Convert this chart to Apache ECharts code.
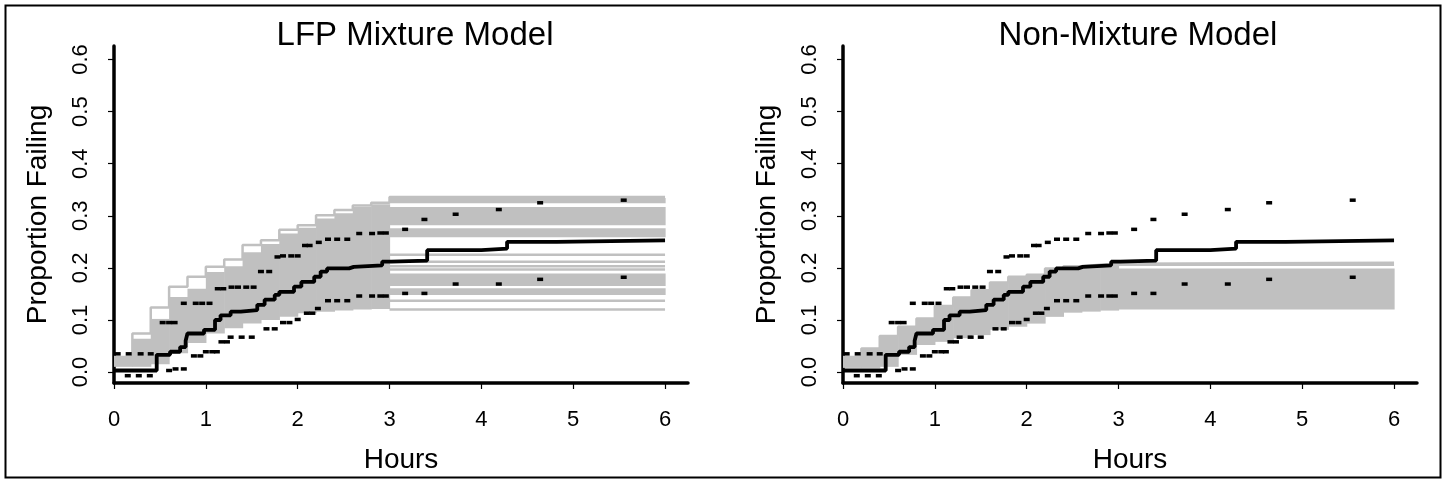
<!DOCTYPE html>
<html><head><meta charset="utf-8">
<script src="https://cdn.jsdelivr.net/npm/echarts@6/dist/echarts.min.js"></script>
<style>html,body{margin:0;padding:0;background:#fff}#c{width:1447px;height:483px}</style>
</head><body><div id="c"></div>
<script>
// ---------- data ----------
const panelTitles = ['LFP Mixture Model', 'Non-Mixture Model'];
const xTicks = [0, 1, 2, 3, 4, 5, 6];
const yTicks = [0, 0.1, 0.2, 0.3, 0.4, 0.5, 0.6];
// step edges of the simulated curves (hours); after 3.0 curves stay flat to 6
const gridHours = [0, 0.2, 0.4, 0.6, 0.8, 1.0, 1.2, 1.4, 1.6, 1.8, 2.0, 2.2, 2.4, 2.6, 2.8, 3.0];
const tailEnd = 6;

// LFP mixture model: simulated curve envelope (per step interval up to 3.0)
const lfpLower = [0.010, 0.010, 0.015, 0.036, 0.056, 0.074, 0.084, 0.093, 0.100, 0.106, 0.113, 0.116, 0.118, 0.120, 0.121];
const lfpSolidTop = [0.029, 0.064, 0.102, 0.144, 0.160, 0.192, 0.203, 0.230, 0.246, 0.266, 0.277, 0.295, 0.305, 0.317, 0.322];
const lfpTop = [0.029, 0.074, 0.124, 0.164, 0.183, 0.202, 0.216, 0.244, 0.253, 0.273, 0.282, 0.301, 0.311, 0.320, 0.325, 0.336];
// LFP levels beyond 3 hours
const lfpTailLow = [0.324, 0.282, 0.259, 0.165, 0.148];
const lfpTailHigh = [0.334, 0.317, 0.276, 0.189, 0.161];
const lfpTailLines = [0.225, 0.212, 0.203, 0.197, 0.137, 0.120];

// Non-mixture model
const nmLower = [0.008, 0.008, 0.010, 0.033, 0.052, 0.058, 0.065, 0.071, 0.081, 0.087, 0.093, 0.106, 0.114, 0.116, 0.118];
const nmTop = [0.029, 0.045, 0.069, 0.087, 0.103, 0.127, 0.143, 0.157, 0.172, 0.183, 0.187, 0.199, 0.203, 0.206, 0.208, 0.210];
const nmTailLow = [0.120];
const nmTailHigh = [0.199];
const nmTailLines = [0.206];

// nonparametric estimate (hours, proportion) - value holds from each time onward
const npEstimate = [[0,0.003],[0.465,0.033],[0.61,0.039],[0.72,0.048],[0.78,0.06],[0.8,0.074],[0.98,0.081],[1.1,0.1],[1.16,0.109],[1.27,0.116],[1.38,0.119],[1.56,0.129],[1.64,0.139],[1.75,0.148],[1.8,0.154],[1.96,0.164],[2.04,0.173],[2.18,0.183],[2.25,0.193],[2.32,0.199],[2.56,0.202],[2.61,0.205],[2.92,0.212],[3.02,0.214],[3.41,0.234],[4.0,0.237],[4.28,0.25],[4.82,0.253],[6.0,0.253]];

// pointwise confidence limits
const upperCI = [[0.04,0.035],[0.16,0.035],[0.29,0.035],[0.40,0.035],[0.53,0.095],[0.6,0.095],[0.66,0.095],[0.76,0.132],[0.89,0.132],[0.96,0.132],[1.04,0.132],[1.13,0.16],[1.19,0.16],[1.28,0.163],[1.35,0.163],[1.44,0.163],[1.52,0.163],[1.6,0.193],[1.69,0.193],[1.78,0.221],[1.84,0.223],[1.93,0.223],[2.0,0.223],[2.08,0.243],[2.13,0.243],[2.23,0.249],[2.33,0.255],[2.43,0.255],[2.54,0.255],[2.67,0.266],[2.81,0.266],[2.9,0.267],[2.96,0.267],[3.17,0.274],[3.38,0.293],[3.72,0.303],[4.19,0.312],[4.64,0.325],[5.55,0.33]];
const lowerCI = [[0.15,-0.007],[0.27,-0.007],[0.39,-0.007],[0.6,0.003],[0.67,0.006],[0.76,0.006],[0.87,0.031],[0.94,0.031],[1.0,0.039],[1.07,0.039],[1.12,0.039],[1.17,0.058],[1.23,0.058],[1.27,0.067],[1.39,0.067],[1.5,0.067],[1.66,0.083],[1.75,0.083],[1.84,0.095],[1.91,0.095],[2.0,0.101],[2.1,0.113],[2.16,0.113],[2.22,0.122],[2.33,0.137],[2.43,0.137],[2.54,0.137],[2.67,0.146],[2.81,0.146],[2.9,0.146],[2.96,0.146],[3.17,0.151],[3.38,0.151],[3.72,0.169],[4.19,0.169],[4.64,0.178],[5.55,0.182]];

// ---------- chart ----------
const GRAY = '#c0c0c0';
const FONT = '"Liberation Sans", Arial, sans-serif';
const chart = echarts.init(document.getElementById('c'), null, {renderer: 'canvas'});

function bandRows(lo, hi) {
  return lo.map((v, i) => [gridHours[i], gridHours[i + 1], v, hi[i]]);
}
function tailRows(lo, hi) {
  const last = gridHours[gridHours.length - 1];
  return lo.map((v, i) => [last, tailEnd, v, hi[i]]);
}
function renderBand(params, api) {
  const a = api.coord([api.value(0), api.value(3)]);
  const b = api.coord([api.value(1), api.value(2)]);
  return {type: 'rect', shape: {x: a[0], y: a[1], width: b[0] - a[0] + 0.6, height: b[1] - a[1]},
          style: {fill: GRAY}};
}
function bandSeries(k, rows) {
  return {type: 'custom', xAxisIndex: k, yAxisIndex: k, renderItem: renderBand, data: rows,
          encode: {x: [0, 1], y: [2, 3]}, silent: true, z: 1};
}
function stepLine(k, pts, color, width, z) {
  return {type: 'line', xAxisIndex: k, yAxisIndex: k, data: pts, step: 'end', symbol: 'none',
          lineStyle: {color: color, width: width}, silent: true, z: z};
}
function topLine(top) {
  const pts = gridHours.map((h, i) => [h, top[i]]);
  pts.push([tailEnd, top[top.length - 1]]);
  return pts;
}
function panelSeries(k, lower, solidTop, top, tailLow, tailHigh, tailLines) {
  const s = [];
  s.push(bandSeries(k, bandRows(lower, solidTop)));
  s.push(bandSeries(k, tailRows(tailLow, tailHigh)));
  s.push(stepLine(k, topLine(top), GRAY, 2.5, 2));
  tailLines.forEach(v => s.push(stepLine(k, [[gridHours[gridHours.length - 1], v], [tailEnd, v]], GRAY, 2.5, 2)));
  s.push(stepLine(k, npEstimate, '#000', 3.8, 4));
  [upperCI, lowerCI].forEach(ci => s.push({type: 'scatter', xAxisIndex: k, yAxisIndex: k, data: ci,
    symbol: 'rect', symbolSize: [6, 3.5], itemStyle: {color: '#000', opacity: 1}, silent: true, z: 5}));
  return s;
}
const grids = [{left: 114, top: 46, width: 574, height: 337}, {left: 843, top: 46, width: 574, height: 337}];
const xAxes = grids.map((g, k) => ({
  type: 'value', gridIndex: k, min: 0, max: 6.25,
  axisLine: {show: true, onZero: false, lineStyle: {color: '#000', width: 3.5}},
  axisTick: {show: true, customValues: xTicks, length: 6, lineStyle: {color: '#000', width: 1.2}},
  axisLabel: {customValues: xTicks, fontSize: 22, color: '#000', margin: 26, fontFamily: FONT},
  splitLine: {show: false},
  name: 'Hours', nameLocation: 'middle', nameGap: 63,
  nameTextStyle: {fontSize: 28, color: '#000', fontFamily: FONT}
}));
const yAxes = grids.map((g, k) => ({
  type: 'value', gridIndex: k, min: -0.021, max: 0.626,
  axisLine: {show: true, onZero: false, lineStyle: {color: '#000', width: 3.5}},
  axisTick: {show: true, customValues: yTicks, length: 6, lineStyle: {color: '#000', width: 1.2}},
  axisLabel: {customValues: yTicks, rotate: 90, fontSize: 22, color: '#000', margin: 22, fontFamily: FONT,
              formatter: v => v.toFixed(1)},
  splitLine: {show: false},
  name: 'Proportion Failing', nameLocation: 'middle', nameGap: 62, nameRotate: 90,
  nameTextStyle: {fontSize: 28, color: '#000', fontFamily: FONT}
}));
const series = [].concat(
  panelSeries(0, lfpLower, lfpSolidTop, lfpTop, lfpTailLow, lfpTailHigh, lfpTailLines),
  panelSeries(1, nmLower, nmTop.slice(0, 15), nmTop, nmTailLow, nmTailHigh, nmTailLines)
);
chart.setOption({
  animation: false,
  backgroundColor: '#fff',
  title: panelTitles.map((t, k) => ({
    text: t, left: [410, 1133][k], top: 14, textAlign: 'center',
    textStyle: {fontSize: 33, fontWeight: 'normal', color: '#000', fontFamily: FONT}
  })),
  grid: grids, xAxis: xAxes, yAxis: yAxes, series: series,
  graphic: [{type: 'rect', shape: {x: 5.5, y: 5.5, width: 1435, height: 472},
             style: {fill: 'none', stroke: '#000', lineWidth: 2}, silent: true}]
});
</script></body></html>
